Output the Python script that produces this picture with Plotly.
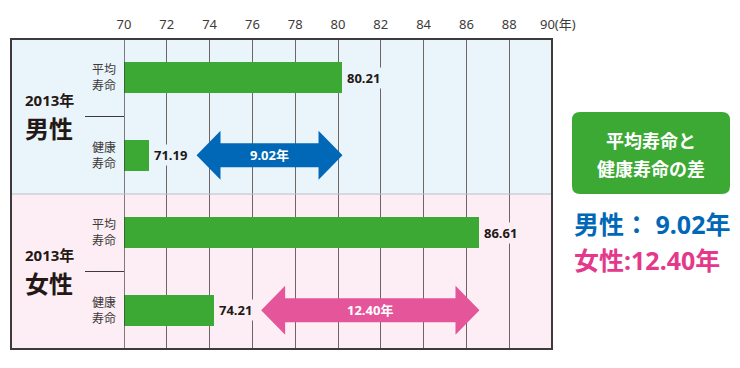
import plotly.graph_objects as go

# ---- data ----
groups = ["男性", "女性"]
year_label = "2013年"
avg_life = [80.21, 86.61]      # 平均寿命
healthy_life = [71.19, 74.21]  # 健康寿命
gaps = [9.02, 12.40]
tick_vals = [70, 72, 74, 76, 78, 80, 82, 84, 86, 88, 90]
tick_text = ["70", "72", "74", "76", "78", "80", "82", "84", "86", "88", "90(年)"]
row_labels = ["平均<br>寿命", "健康<br>寿命"]

FONT = "'Noto Sans', 'Noto Sans CJK JP', sans-serif"
GREEN = "#3DA935"
BLUE = "#0068B7"
PINK_ARROW = "#E5559A"
PINK_TEXT = "#E4398B"
BG_M = "#EAF4FB"
BG_F = "#FCEEF4"
DARK = "#3e3a39"
GRID = "#6e6666"

XMIN, XMAX = tick_vals[0], tick_vals[-1]
PW, PH = 428.0, 310.0   # plot area size in px
L0 = 124.0              # plot-area left in reference px
T0 = 39.0               # plot-area top in reference px


def px(xpix):
    return (xpix - L0) / PW


def py(ypix):
    return 1 - (ypix - T0) / PH


def note(**kw):
    d = dict(showarrow=False, xanchor="center", yanchor="middle")
    d.update(kw)
    return d


fig = go.Figure()

ys, xs = [], []
for i in range(len(groups)):
    ys += [2 * i, 2 * i + 1]
    xs += [avg_life[i], healthy_life[i]]

fig.add_trace(go.Bar(
    y=ys, x=[v - XMIN for v in xs], base=XMIN, orientation="h",
    width=0.4, marker=dict(color=GREEN, line=dict(width=0)),
    hoverinfo="skip", showlegend=False,
))

shapes = []
annotations = []
left_paper = px(11)
bgs = [BG_M, BG_F]
arrow_cols = [BLUE, PINK_ARROW]

for i, g in enumerate(groups):
    y0 = 2 * i - 0.5
    y1 = 2 * i + 1.5
    shapes.append(dict(type="rect", xref="paper", yref="y", x0=left_paper, x1=1,
                       y0=y0, y1=y1, fillcolor=bgs[i], line=dict(width=0), layer="below"))
    shapes.append(dict(type="line", xref="paper", yref="y", x0=px(85), x1=0,
                       y0=2 * i + 0.5, y1=2 * i + 0.5, line=dict(color=DARK, width=1)))
    yc = 2 * i + 0.5
    annotations.append(note(xref="paper", yref="y", x=px(49), y=yc, yshift=5,
                            yanchor="bottom", text="<b>" + year_label + "</b>",
                            font=dict(family=FONT, size=15, color="#231815")))
    annotations.append(note(xref="paper", yref="y", x=px(49), y=yc, yshift=7,
                            yanchor="top", text="<b>" + g + "</b>",
                            font=dict(family=FONT, size=24, color="#231815")))
    for j, lab in enumerate(row_labels):
        annotations.append(note(xref="paper", yref="y", x=px(104), y=2 * i + j,
                                text=lab,
                                font=dict(family=FONT, size=12, color="#3e3a39")))
    for j, v in enumerate([avg_life[i], healthy_life[i]]):
        annotations.append(note(x=v, y=2 * i + j, xanchor="left", xshift=3,
                                text="<b>%.2f</b>" % v, bgcolor=bgs[i], borderpad=1,
                                font=dict(family=FONT, size=13, color="#231815")))
    # double arrow between healthy and average life
    xl = healthy_life[i] + 2.2
    xr = avg_life[i]
    hl = 1.12
    yy = 2 * i + 1
    sh, hh = 0.155, 0.316
    path = (f"M {xl},{yy} L {xl + hl},{yy - hh} L {xl + hl},{yy - sh} L {xr - hl},{yy - sh} "
            f"L {xr - hl},{yy - hh} L {xr},{yy} L {xr - hl},{yy + hh} L {xr - hl},{yy + sh} "
            f"L {xl + hl},{yy + sh} L {xl + hl},{yy + hh} Z")
    shapes.append(dict(type="path", xref="x", yref="y", path=path,
                       fillcolor=arrow_cols[i], line=dict(width=0)))
    annotations.append(note(x=(xl + xr) / 2, y=yy, text="<b>%.2f年</b>" % gaps[i],
                            font=dict(family=FONT, size=13, color="white")))

# last tick label ("90(年)") drawn as annotation so "90" sits on its grid line
annotations.append(note(x=tick_vals[-1], xanchor="left", xshift=-14, yref="paper", y=py(24),
                        text=tick_text[-1], font=dict(family=FONT, size=13, color="#3e3a39")))

shapes.append(dict(type="line", xref="x", yref="paper", x0=XMIN, x1=XMIN, y0=0, y1=1,
                   line=dict(color=DARK, width=1.3)))
shapes.append(dict(type="line", xref="paper", yref="y", x0=left_paper, x1=1, y0=1.5, y1=1.5,
                   line=dict(color="#b8c0c8", width=1)))
shapes.append(dict(type="rect", xref="paper", yref="paper", x0=left_paper, x1=1, y0=0, y1=1,
                   line=dict(color=DARK, width=2)))

# right side green box with rounded corners
bx0, bx1 = px(572), px(730)
by0, by1 = py(194), py(112)
rx, ry = 8 / PW, 8 / PH
box = (f"M {bx0 + rx},{by0} L {bx1 - rx},{by0} Q {bx1},{by0} {bx1},{by0 + ry} "
       f"L {bx1},{by1 - ry} Q {bx1},{by1} {bx1 - rx},{by1} L {bx0 + rx},{by1} "
       f"Q {bx0},{by1} {bx0},{by1 - ry} L {bx0},{by0 + ry} Q {bx0},{by0} {bx0 + rx},{by0} Z")
shapes.append(dict(type="path", xref="paper", yref="paper", path=box,
                   fillcolor=GREEN, line=dict(width=0)))
bxc = (bx0 + bx1) / 2
annotations.append(note(xref="paper", yref="paper", x=bxc, y=py(141),
                        text="<b>平均寿命と</b>",
                        font=dict(family=FONT, size=18, color="white")))
annotations.append(note(xref="paper", yref="paper", x=bxc, y=py(169),
                        text="<b>健康寿命の差</b>",
                        font=dict(family=FONT, size=18, color="white")))
annotations.append(note(xref="paper", yref="paper", x=px(572), xanchor="left", y=py(224),
                        text="<b>%s：&nbsp;%.2f年</b>" % (groups[0], gaps[0]),
                        font=dict(family=FONT, size=25, color=BLUE)))
annotations.append(note(xref="paper", yref="paper", x=px(572), xanchor="left", y=py(260),
                        text="<b>%s:%.2f年</b>" % (groups[1], gaps[1]),
                        font=dict(family=FONT, size=25, color=PINK_TEXT)))

# page body has an 8px margin, so the figure is 8px smaller and shifted
OFF = 8
fig.update_layout(
    width=740 - OFF, height=368 - OFF,
    margin=dict(l=L0 - OFF, r=740 - OFF - (L0 - OFF) - PW, t=T0 - OFF,
                b=368 - OFF - (T0 - OFF) - PH, autoexpand=False),
    paper_bgcolor="white", plot_bgcolor="rgba(0,0,0,0)",
    shapes=shapes, annotations=annotations,
    bargap=0,
    xaxis=dict(range=[XMIN, XMAX], side="top", tickvals=tick_vals[:-1],
               ticktext=tick_text[:-1], automargin=False,
               showgrid=True, gridcolor=GRID, gridwidth=1, zeroline=False,
               ticks="outside", ticklen=4, tickcolor="rgba(0,0,0,0)",
               tickfont=dict(family=FONT, size=13, color="#3e3a39"), fixedrange=True),
    yaxis=dict(range=[3.5, -0.5], showticklabels=False, showgrid=False, zeroline=False,
               automargin=False, fixedrange=True),
    font=dict(family=FONT),
)

fig.write_html("out.html")
